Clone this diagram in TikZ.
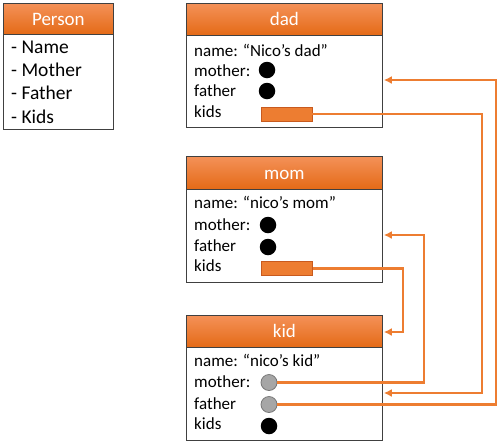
\documentclass[tikz,border=0pt]{standalone}
\usepackage{fontspec}
\setmainfont{Carlito}
\usetikzlibrary{arrows.meta}
\definecolor{orline}{RGB}{237,125,49}
\definecolor{ortop}{RGB}{244,145,88}
\definecolor{orbot}{RGB}{228,106,22}
\definecolor{bordergray}{RGB}{64,64,64}
\definecolor{dotgray}{RGB}{166,166,166}
\definecolor{dotedge}{RGB}{120,120,120}
\tikzset{
  headbox/.style={draw=bordergray, line width=0.8pt, top color=ortop, bottom color=orbot,
    minimum width=196pt, minimum height=32pt, inner sep=0pt, anchor=north west,
    text=white, font=\fontsize{19}{19}\selectfont, text height=13pt, text depth=0pt},
  bodybox/.style={draw=bordergray, line width=0.8pt, fill=white, minimum width=196pt,
    inner sep=0pt, anchor=north west},
  fieldtxt/.style={anchor=base west, inner sep=0pt, font=\fontsize{17}{17}\selectfont},
  persontxt/.style={anchor=base west, inner sep=0pt, font=\fontsize{19.5}{19.5}\selectfont},
  blackdot/.style={circle, fill=black, minimum size=16.5pt, inner sep=0pt},
  graydot/.style={circle, fill=dotgray, draw=dotedge, line width=0.8pt, minimum size=16pt, inner sep=0pt},
  kidsbar/.style={rectangle, fill=orline, draw={rgb,255:red,200;green,90;blue,30}, line width=0.6pt,
    minimum width=51pt, minimum height=14pt, inner sep=0pt},
  link/.style={draw=orline, line width=2.2pt},
  arrowlink/.style={link, -{Latex[length=8pt,width=8pt]}, shorten >=1pt}
}
\begin{document}
\begin{tikzpicture}[x=1pt,y=-1pt]
\useasboundingbox (0,0) rectangle (500,445);

% Person
\node[headbox, minimum width=110pt, minimum height=31pt] (personhead) at (3,3) {Person};
\node[bodybox, minimum width=110pt, minimum height=95pt] (personbody) at (3,34) {};
\node[persontxt] (pname) at (11,53) {- Name};
\node[persontxt] (pmother) at (11,76) {- Mother};
\node[persontxt] (pfather) at (11,99) {- Father};
\node[persontxt] (pkids) at (11,123) {- Kids};

% dad
\node[headbox] (dadhead) at (186,3) {dad};
\node[bodybox, minimum height=92pt] (dadbody) at (186,35) {};
\node[fieldtxt] (dadname) at (194,56) {name: “Nico’s dad”};
\node[fieldtxt] (dadmotherlbl) at (194,76) {mother:};
\node[fieldtxt] (dadfatherlbl) at (194,96.5) {father};
\node[fieldtxt] (dadkidslbl) at (194,117) {kids};
\node[blackdot] (dadmother) at (267,70) {};
\node[blackdot] (dadfather) at (267,91) {};
\node[kidsbar] (dadkids) at (286.5,114) {};

% mom
\node[headbox, minimum height=33pt] (momhead) at (186,156) {mom};
\node[bodybox, minimum height=93pt] (mombody) at (186,189) {};
\node[fieldtxt] (momname) at (194,208) {name: “nico’s mom”};
\node[fieldtxt] (mommotherlbl) at (194,230) {mother:};
\node[fieldtxt] (momfatherlbl) at (194,251) {father};
\node[fieldtxt] (momkidslbl) at (194,271) {kids};
\node[blackdot] (mommother) at (268,225) {};
\node[blackdot] (momfather) at (268,247) {};
\node[kidsbar] (momkids) at (287,268.5) {};

% kid
\node[headbox] (kidhead) at (186,315) {kid};
\node[bodybox, minimum height=93pt] (kidbody) at (186,347) {};
\node[fieldtxt] (kidname) at (194,366) {name: “nico’s kid”};
\node[fieldtxt] (kidmotherlbl) at (194,387) {mother:};
\node[fieldtxt] (kidfatherlbl) at (194,409) {father};
\node[fieldtxt] (kidkidslbl) at (194,429) {kids};
\node[graydot] (kidmother) at (269,382.5) {};
\node[graydot] (kidfather) at (269,404.5) {};
\node[blackdot] (kidkids) at (269,426) {};

% connectors
\coordinate (r1) at (482,393);
\coordinate (r2) at (403,332);
\coordinate (r3) at (424,235);
\coordinate (r4) at (496,80);
\draw[arrowlink] (dadkids.east) -| (r1) -- (kidbody.east |- r1);
\draw[arrowlink] (momkids.east) -| (r2) -- (kidhead.east |- r2);
\draw[arrowlink] (kidmother.east) -| (r3) -- (mombody.east |- r3);
\draw[arrowlink] (kidfather.east) -| (r4) -- (dadbody.east |- r4);
\end{tikzpicture}
\end{document}
